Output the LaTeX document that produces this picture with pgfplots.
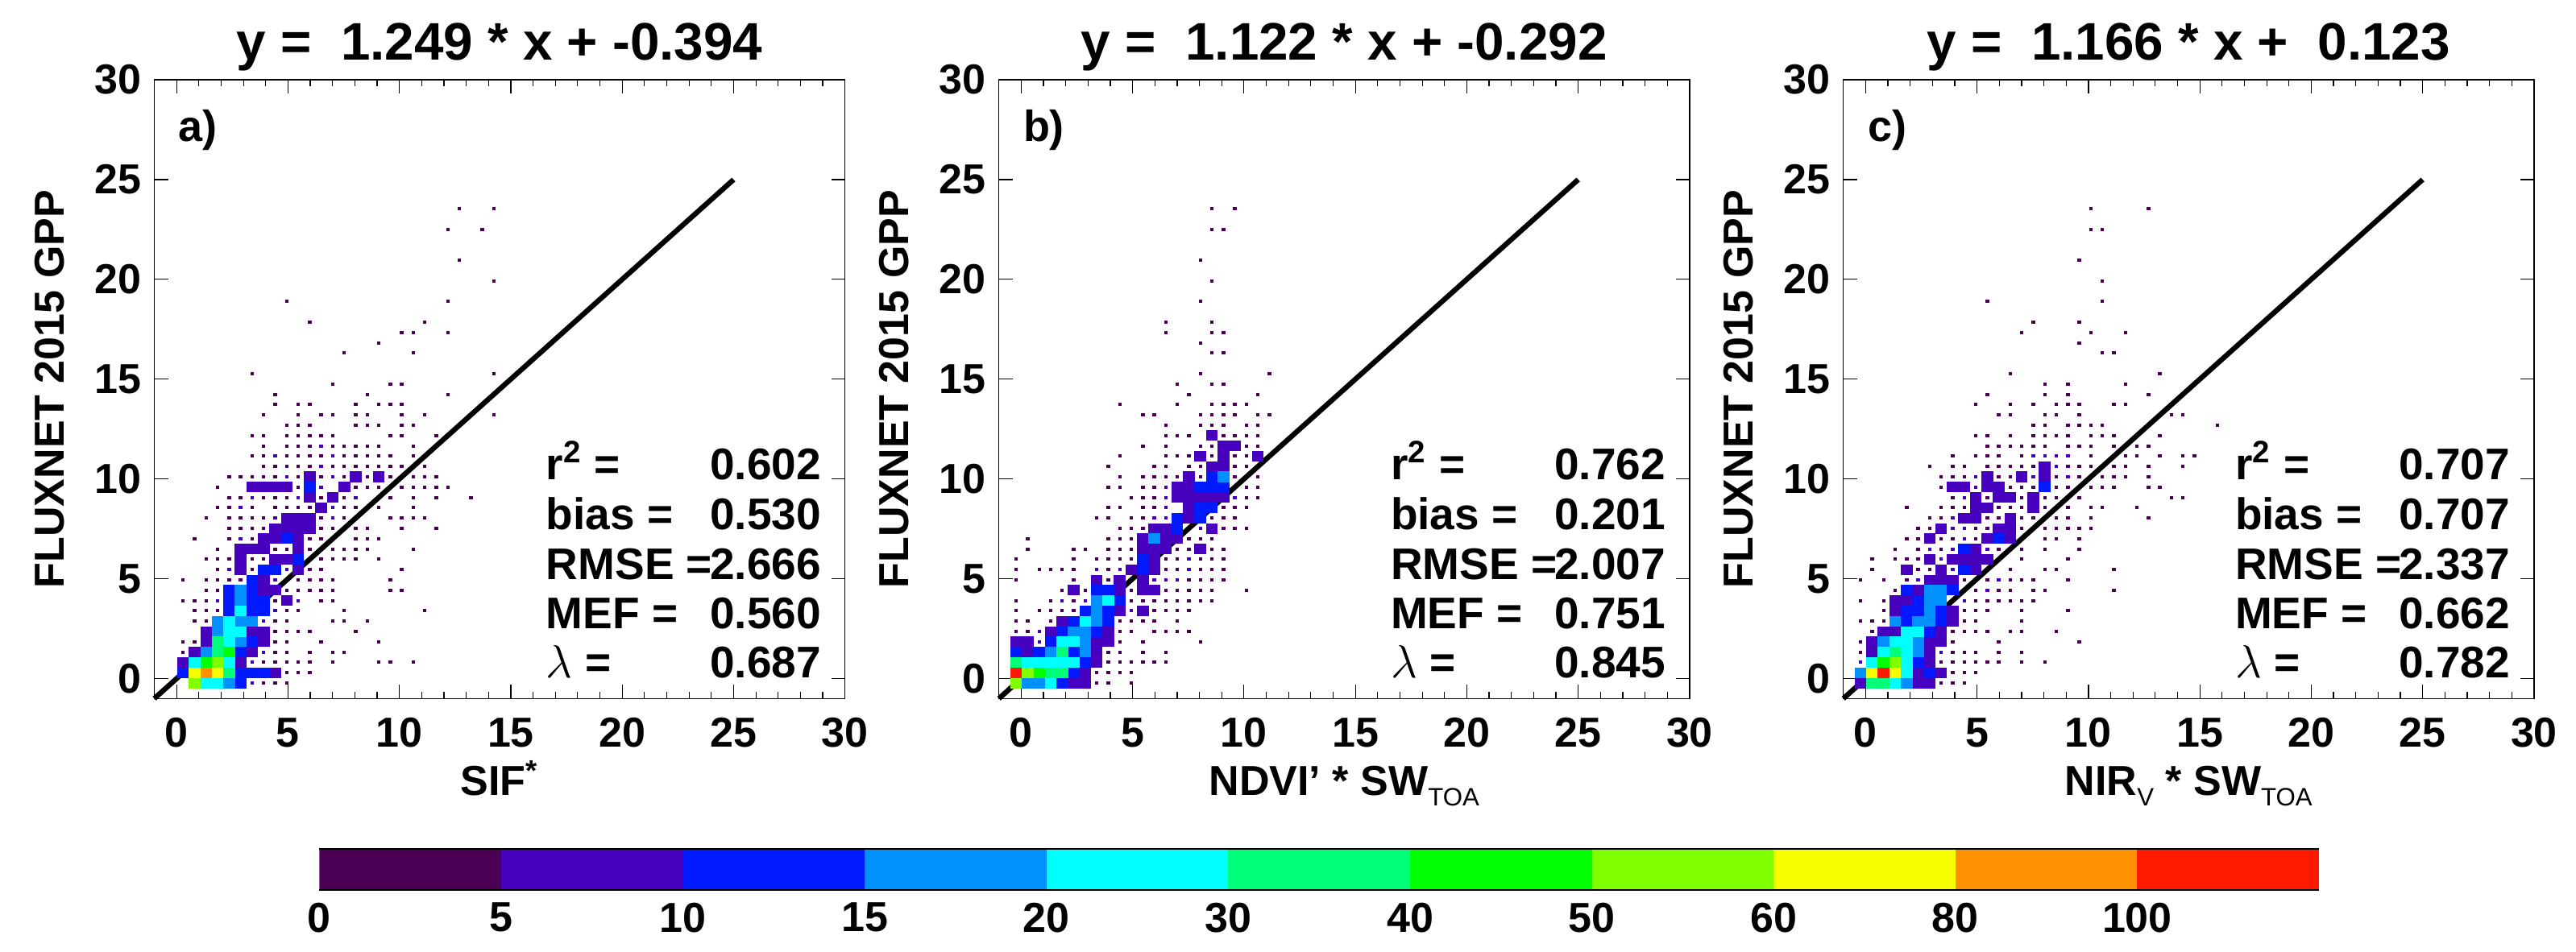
\documentclass[border=0pt]{standalone}
\usepackage{fontspec}
\setmainfont{Liberation Sans}
\usepackage{pgfplots}
\pgfplotsset{compat=1.18}

% histogram classes of the colour bar
\definecolor{c0}{RGB}{76,0,85}
\definecolor{c1}{RGB}{70,0,190}
\definecolor{c2}{RGB}{0,25,255}
\definecolor{c3}{RGB}{0,145,255}
\definecolor{c4}{RGB}{0,255,255}
\definecolor{c5}{RGB}{0,255,120}
\definecolor{c6}{RGB}{0,255,0}
\definecolor{c7}{RGB}{128,255,0}
\definecolor{c8}{RGB}{245,255,0}
\definecolor{c9}{RGB}{255,145,0}
\definecolor{c10}{RGB}{255,25,0}

\pgfdeclareplotmark{cell}{\pgfpathrectangle{\pgfpoint{-1.82pt}{-1.63pt}}{\pgfpoint{3.64pt}{3.26pt}}\pgfusepathqfill}
\pgfdeclareplotmark{dot}{\pgfpathrectangle{\pgfpoint{-0.55pt}{-0.5pt}}{\pgfpoint{1.1pt}{1pt}}\pgfusepathqfill}

\newcommand\bigfont{\fontsize{13}{15}\selectfont\bfseries}
\newcommand\lowsub[1]{\raisebox{-3.25pt}{\fontsize{7.8}{9}\selectfont\mdseries #1}}

% each table row is column and row of a 60x60 bin grid over -1..30
\pgfplotsset{
  table/bin/.style={row sep=\\,header=false,
    x expr={-1+31/60*(\thisrowno{0}+0.5)},y expr={-1+31/60*(\thisrowno{1}+0.5)}},
  big/.style={only marks,mark=cell,color=#1},
  small/.style={only marks,mark=dot,color=#1},
  panel/.style={
    scale only axis,width=214.3pt,height=192.075pt,anchor=south west,
    xmin=-1,xmax=30,ymin=-1,ymax=30,
    xtick={0,5,...,30},ytick={0,5,...,30},minor x tick num=4,minor y tick num=0,
    tick align=inside,major tick length=4.25pt,minor tick length=2.1pt,
    tick style={black,line width=0.3pt},axis line style={line width=0.35pt},
    clip=false,axis on top=false,
    /pgf/number format/assume math mode=true,
    tick label style={font=\bigfont},
    xticklabel style={yshift=-2.5pt},
    yticklabel style={xshift=-0.5pt},
    every axis title shift=0pt,
    title style={at={(0.5,1.0325)},anchor=base,font=\fontsize{16.4}{18}\selectfont\bfseries},
    xlabel style={at={(axis description cs:0.5,-0.1562)},anchor=base,font=\bigfont},
    ylabel style={at={(axis description cs:-0.1309,0.5)},anchor=base,font=\bigfont},
    ylabel={FLUXNET 2015 GPP},
  },
}

\newcommand\stats[5]{%
  \node[anchor=base west,inner sep=0pt,font=\fontsize{13.75}{15}\selectfont\bfseries] at (rel axis cs:0.5664,0.3544) {r\textsuperscript{2} =};
  \node[anchor=base west,inner sep=0pt,font=\fontsize{13.75}{15}\selectfont\bfseries] at (rel axis cs:0.5664,0.2737) {bias =};
  \node[anchor=base west,inner sep=0pt,font=\fontsize{13.75}{15}\selectfont\bfseries] at (rel axis cs:0.5664,0.193) {RMSE =};
  \node[anchor=base west,inner sep=0pt,font=\fontsize{13.75}{15}\selectfont\bfseries] at (rel axis cs:0.5664,0.1136) {MEF =};
  \node[anchor=base west,inner sep=0pt,font=\fontsize{13.75}{15}\selectfont\bfseries] at (rel axis cs:0.5664,0.033) {$\lambda$ =};
  \node[anchor=base east,inner sep=0pt,font=\fontsize{13.75}{15}\selectfont\bfseries] at (rel axis cs:0.966,0.3544) {#1};
  \node[anchor=base east,inner sep=0pt,font=\fontsize{13.75}{15}\selectfont\bfseries] at (rel axis cs:0.966,0.2737) {#2};
  \node[anchor=base east,inner sep=0pt,font=\fontsize{13.75}{15}\selectfont\bfseries] at (rel axis cs:0.966,0.193) {#3};
  \node[anchor=base east,inner sep=0pt,font=\fontsize{13.75}{15}\selectfont\bfseries] at (rel axis cs:0.966,0.1136) {#4};
  \node[anchor=base east,inner sep=0pt,font=\fontsize{13.75}{15}\selectfont\bfseries] at (rel axis cs:0.966,0.033) {#5};
}
\newcommand\tag[1]{\node[anchor=base west,inner sep=0pt,font=\fontsize{13.5}{15}\selectfont\bfseries] at (rel axis cs:0.0344,0.9) {#1};}

\begin{document}
\begin{tikzpicture}
\path[use as bounding box] (0,0) rectangle (799.25pt,295.25pt);

% panel a
\begin{axis}[panel,at={(47.875pt,78.425pt)},
  title={y =\ \ 1.249 * x + -0.394},
  xlabel={SIF\textsuperscript{*}}]
\addplot[small=c0] table[bin] {
9 1\\10 1\\11 1\\11 2\\12 2\\13 2\\9 3\\10 3\\11 3\\12 3\\13 3\\15 3\\19 3\\20 3\\22 3\\
2 4\\10 4\\11 4\\13 4\\15 4\\16 4\\2 5\\3 5\\10 5\\11 5\\14 5\\19 5\\10 6\\11 6\\12 6\\13 6\\17 6\\
3 7\\4 7\\10 7\\11 7\\15 7\\16 7\\18 7\\3 8\\4 8\\5 8\\11 8\\12 8\\16 8\\23 8\\
2 9\\3 9\\4 9\\10 9\\14 9\\15 9\\4 10\\5 10\\11 10\\12 10\\13 10\\14 10\\15 10\\20 10\\21 10\\
2 11\\4 11\\5 11\\6 11\\7 11\\12 11\\13 11\\14 11\\15 11\\20 11\\5 12\\8 12\\13 12\\14 12\\21 12\\
4 13\\5 13\\6 13\\8 13\\9 13\\14 13\\15 13\\16 13\\17 13\\19 13\\
5 14\\10 14\\11 14\\13 14\\15 14\\16 14\\17 14\\18 14\\22 14\\
3 15\\6 15\\8 15\\13 15\\14 15\\17 15\\18 15\\19 15\\
6 16\\7 16\\8 16\\9 16\\14 16\\15 16\\17 16\\18 16\\21 16\\24 16\\
4 17\\6 17\\7 17\\8 17\\9 17\\14 17\\16 17\\20 17\\21 17\\22 17\\23 17\\
5 18\\6 18\\8 18\\10 18\\11 18\\12 18\\13 18\\16 18\\17 18\\19 18\\22 18\\
6 19\\7 19\\9 19\\10 19\\11 19\\14 19\\16 19\\20 19\\22 19\\24 19\\27 19\\
5 20\\12 20\\17 20\\18 20\\19 20\\21 20\\22 20\\23 20\\24 20\\25 20\\
6 21\\7 21\\8 21\\9 21\\10 21\\12 21\\14 21\\16 21\\18 21\\20 21\\22 21\\23 21\\24 21\\
9 22\\10 22\\11 22\\12 22\\13 22\\15 22\\16 22\\17 22\\18 22\\19 22\\20 22\\21 22\\23 22\\
8 23\\9 23\\11 23\\12 23\\13 23\\14 23\\16 23\\17 23\\18 23\\19 23\\20 23\\22 23\\
9 24\\11 24\\12 24\\13 24\\15 24\\16 24\\17 24\\18 24\\19 24\\22 24\\
8 25\\9 25\\11 25\\12 25\\13 25\\14 25\\15 25\\20 25\\21 25\\24 25\\
11 26\\12 26\\13 26\\17 26\\18 26\\19 26\\21 26\\22 26\\
9 27\\12 27\\14 27\\15 27\\17 27\\18 27\\21 27\\23 27\\29 27\\
10 28\\12 28\\13 28\\17 28\\19 28\\20 28\\21 28\\10 29\\18 29\\25 29\\15 30\\20 30\\21 30\\8 31\\29 31\\
16 33\\22 33\\19 34\\21 35\\22 35\\25 35\\13 36\\23 36\\11 38\\25 38\\29 40\\26 42\\25 45\\28 45\\26 47\\29 47\\
};
\addplot[small=c1] table[bin] {
8 1\\8 3\\9 4\\9 7\\10 8\\5 9\\12 9\\10 11\\6 12\\11 12\\7 15\\10 17\\15 17\\7 18\\15 18\\8 19\\12 19\\17 19\\14 20\\11 21\\15 21\\14 22\\10 23\\15 23\\14 24\\
};
\addplot[big=c1] table[bin] {
10 2\\2 3\\7 3\\3 4\\8 4\\4 5\\9 5\\4 6\\8 6\\9 6\\11 9\\9 10\\10 10\\9 11\\7 12\\12 12\\7 13\\10 13\\11 13\\7 14\\8 14\\9 14\\12 14\\
9 15\\10 15\\12 15\\10 16\\11 16\\12 16\\13 16\\11 17\\12 17\\13 17\\14 18\\13 19\\15 19\\8 20\\9 20\\10 20\\11 20\\16 20\\13 21\\17 21\\19 21\\
};
\addplot[big=c2] table[bin] {
7 1\\2 2\\7 2\\8 2\\9 2\\7 4\\8 5\\6 8\\8 8\\9 8\\6 9\\8 9\\9 9\\6 10\\8 10\\8 11\\9 12\\10 12\\12 13\\11 15\\13 20\\
};
\addplot[big=c3] table[bin] {
6 1\\4 4\\7 5\\5 6\\5 7\\7 7\\8 7\\7 9\\7 10\\
};
\addplot[big=c4] table[bin] {
4 1\\5 1\\3 3\\6 3\\6 5\\6 6\\7 6\\6 7\\7 8\\
};
\addplot[big=c5] table[bin] {
6 2\\5 4\\5 5\\
};
\addplot[big=c6] table[bin] {
4 3\\6 4\\
};
\addplot[big=c7] table[bin] {
3 1\\5 3\\
};
\addplot[big=c8] table[bin] {
3 2\\5 2\\
};
\addplot[big=c9] table[bin] {
4 2\\
};
\addplot[black,line width=1.6pt] coordinates {(-1,-1) (25,25)};
\tag{a)}
\stats{0.602}{0.530}{2.666}{0.560}{0.687}
\end{axis}

% panel b
\begin{axis}[panel,at={(309.925pt,78.425pt)},
  title={y =\ \ 1.122 * x + -0.292},
  xlabel={NDVI' * SW\lowsub{TOA}}]
\addplot[small=c0] table[bin] {
8 1\\9 1\\11 1\\8 2\\9 2\\10 2\\11 2\\9 3\\10 3\\11 3\\12 3\\13 3\\14 3\\9 4\\10 4\\12 4\\14 4\\10 5\\12 5\\17 5\\
1 6\\2 6\\10 6\\11 6\\13 6\\14 6\\15 6\\16 6\\1 7\\2 7\\4 7\\10 7\\11 7\\12 7\\13 7\\15 7\\
1 8\\3 8\\4 8\\5 8\\6 8\\13 8\\14 8\\15 8\\16 8\\1 9\\4 9\\6 9\\11 9\\12 9\\13 9\\14 9\\15 9\\16 9\\17 9\\18 9\\
5 10\\7 10\\11 10\\14 10\\15 10\\16 10\\17 10\\18 10\\21 10\\1 11\\6 11\\9 11\\16 11\\17 11\\18 11\\19 11\\
1 12\\3 12\\4 12\\5 12\\6 12\\9 12\\14 12\\15 12\\17 12\\18 12\\19 12\\
1 13\\6 13\\8 13\\9 13\\10 13\\11 13\\14 13\\15 13\\17 13\\18 13\\19 13\\
2 14\\6 14\\7 14\\9 14\\10 14\\11 14\\15 14\\16 14\\18 14\\19 14\\2 15\\9 15\\10 15\\11 15\\16 15\\17 15\\18 15\\
10 16\\11 16\\12 16\\19 16\\20 16\\21 16\\8 17\\9 17\\11 17\\12 17\\18 17\\19 17\\20 17\\
9 18\\10 18\\12 18\\13 18\\19 18\\20 18\\21 18\\11 19\\12 19\\13 19\\21 19\\22 19\\9 20\\10 20\\12 20\\13 20\\21 20\\22 20\\
10 21\\12 21\\13 21\\14 21\\15 21\\17 21\\20 21\\22 21\\9 22\\13 22\\14 22\\16 22\\17 22\\20 22\\21 22\\
10 23\\14 23\\15 23\\16 23\\18 23\\20 23\\21 23\\12 24\\14 24\\17 24\\18 24\\21 24\\22 24\\
14 25\\15 25\\16 25\\19 25\\20 25\\21 25\\22 25\\14 26\\17 26\\18 26\\19 26\\21 26\\22 26\\
12 27\\13 27\\17 27\\18 27\\19 27\\20 27\\22 27\\23 27\\10 28\\15 28\\18 28\\19 28\\20 28\\21 28\\
16 29\\22 29\\15 30\\18 30\\19 30\\17 31\\23 31\\18 33\\19 33\\17 34\\14 35\\18 35\\19 35\\14 36\\18 36\\17 38\\18 40\\17 42\\18 45\\19 45\\18 47\\20 47\\
};
\addplot[small=c1] table[bin] {
3 5\\3 6\\5 9\\7 9\\11 8\\8 12\\10 12\\16 12\\13 11\\14 11\\15 11\\16 13\\13 17\\14 17\\14 18\\14 19\\20 19\\14 20\\17 16\\
};
\addplot[big=c1] table[bin] {
6 1\\7 1\\7 2\\8 3\\2 4\\8 4\\1 5\\2 5\\8 5\\9 5\\4 6\\9 6\\5 7\\10 8\\12 8\\6 10\\10 10\\12 10\\13 10\\8 11\\10 11\\12 11\\11 12\\13 12\\13 13\\
12 14\\13 14\\14 14\\17 14\\12 15\\14 15\\15 15\\13 16\\14 16\\18 16\\16 17\\16 18\\15 19\\16 19\\17 19\\18 19\\19 19\\15 20\\16 20\\16 21\\18 22\\19 22\\17 23\\19 23\\22 23\\19 24\\20 24\\18 25\\
};
\addplot[big=c2] table[bin] {
5 1\\6 2\\7 3\\1 4\\3 4\\6 4\\4 5\\5 6\\8 6\\6 7\\9 7\\7 8\\9 8\\10 9\\8 10\\9 10\\12 12\\12 13\\15 16\\15 17\\17 17\\17 18\\18 18\\17 20\\18 20\\19 20\\18 21\\
};
\addplot[big=c3] table[bin] {
2 1\\3 1\\4 4\\7 4\\7 5\\6 6\\7 6\\8 7\\8 8\\8 9\\13 15\\19 21\\
};
\addplot[big=c4] table[bin] {
4 1\\2 3\\3 3\\4 3\\5 3\\6 3\\5 5\\6 5\\7 7\\9 9\\
};
\addplot[big=c5] table[bin] {
4 2\\5 2\\1 3\\5 4\\
};
\addplot[big=c6] table[bin] {
3 2\\
};
\addplot[big=c7] table[bin] {
1 1\\2 2\\
};
\addplot[big=c10] table[bin] {
1 2\\
};
\addplot[black,line width=1.6pt] coordinates {(-1,-1) (25,25)};
\tag{b)}
\stats{0.762}{0.201}{2.007}{0.751}{0.845}
\end{axis}

% panel c
\begin{axis}[panel,at={(571.925pt,78.425pt)},
  title={y =\ \ 1.166 * x +\ \ 0.123},
  xlabel={NIR\lowsub{V} * SW\lowsub{TOA}}]
\addplot[small=c0] table[bin] {
8 1\\9 1\\10 1\\9 2\\10 2\\11 2\\8 3\\9 3\\10 3\\11 3\\12 3\\13 3\\15 3\\17 3\\1 4\\9 4\\10 4\\11 4\\13 4\\15 4\\1 5\\9 5\\13 5\\20 5\\
2 6\\9 6\\10 6\\11 6\\12 6\\14 6\\15 6\\18 6\\1 7\\2 7\\3 7\\10 7\\11 7\\15 7\\3 8\\10 8\\11 8\\12 8\\15 8\\19 8\\
1 9\\3 9\\11 9\\12 9\\13 9\\14 9\\15 9\\16 9\\4 10\\11 10\\13 10\\14 10\\16 10\\17 10\\23 10\\
1 11\\3 11\\5 11\\10 11\\12 11\\14 11\\15 11\\16 11\\19 11\\2 12\\6 12\\7 12\\14 12\\17 12\\18 12\\23 12\\
2 13\\4 13\\5 13\\6 13\\15 13\\19 13\\4 14\\6 14\\8 14\\13 14\\15 14\\17 14\\20 14\\5 15\\6 15\\8 15\\9 15\\11 15\\17 15\\18 15\\20 15\\
6 16\\7 16\\11 16\\12 16\\15 16\\17 16\\18 16\\19 16\\20 16\\21 16\\7 17\\8 17\\12 17\\13 17\\15 17\\16 17\\18 17\\19 17\\21 17\\26 17\\
5 18\\8 18\\9 18\\10 18\\13 18\\14 18\\15 18\\17 18\\19 18\\21 18\\22 18\\25 18\\9 19\\12 19\\15 19\\17 19\\18 19\\20 19\\28 19\\29 19\\
8 20\\14 20\\15 20\\16 20\\18 20\\19 20\\21 20\\22 20\\23 20\\26 20\\27 20\\8 21\\9 21\\10 21\\13 21\\14 21\\18 21\\20 21\\22 21\\23 21\\24 21\\26 21\\
7 22\\9 22\\10 22\\12 22\\13 22\\14 22\\15 22\\16 22\\19 22\\20 22\\21 22\\23 22\\24 22\\26 22\\29 22\\
9 23\\11 23\\12 23\\13 23\\15 23\\21 23\\24 23\\25 23\\27 23\\29 23\\30 23\\
12 24\\13 24\\14 24\\15 24\\16 24\\17 24\\19 24\\20 24\\21 24\\23 24\\25 24\\26 24\\
11 25\\12 25\\14 25\\16 25\\17 25\\18 25\\19 25\\21 25\\22 25\\23 25\\27 25\\16 26\\17 26\\19 26\\20 26\\21 26\\22 26\\32 26\\
13 27\\14 27\\17 27\\18 27\\20 27\\28 27\\29 27\\11 28\\14 28\\16 28\\18 28\\19 28\\20 28\\23 28\\24 28\\
12 29\\17 29\\19 29\\26 29\\17 30\\19 30\\24 30\\14 31\\27 31\\22 33\\23 33\\20 34\\15 35\\21 35\\24 35\\16 36\\20 36\\12 38\\22 38\\22 40\\20 42\\21 45\\22 45\\21 47\\26 47\\
};
\addplot[small=c1] table[bin] {
1 3\\8 4\\12 10\\10 9\\13 11\\6 11\\8 13\\9 12\\7 14\\9 14\\12 14\\10 15\\9 16\\10 16\\9 17\\10 19\\11 20\\11 21\\16 21\\19 21\\18 22\\16 23\\17 23\\18 23\\19 23\\
};
\addplot[big=c1] table[bin] {
1 1\\6 1\\7 1\\6 2\\8 2\\7 3\\2 4\\7 4\\2 5\\7 5\\8 5\\3 6\\4 6\\8 6\\9 7\\4 8\\9 8\\4 9\\5 9\\6 10\\7 11\\8 11\\9 11\\5 12\\8 12\\11 12\\
7 13\\9 13\\10 13\\11 13\\12 13\\11 14\\7 15\\12 15\\14 15\\8 16\\13 16\\14 16\\10 17\\11 17\\14 17\\11 18\\12 18\\16 18\\
11 19\\13 19\\14 19\\16 19\\9 20\\10 20\\12 20\\13 20\\12 21\\15 21\\17 21\\17 22\\
};
\addplot[big=c2] table[bin] {
7 2\\6 3\\7 6\\5 7\\8 7\\5 8\\6 8\\8 8\\6 9\\5 10\\9 10\\10 12\\10 14\\13 15\\17 20\\
};
\addplot[big=c3] table[bin] {
5 1\\1 2\\6 4\\3 5\\6 5\\4 7\\6 7\\7 7\\7 8\\7 9\\8 9\\7 10\\8 10\\
};
\addplot[big=c4] table[bin] {
4 1\\5 2\\2 3\\5 3\\3 4\\5 4\\4 5\\5 5\\5 6\\6 6\\
};
\addplot[big=c5] table[bin] {
2 1\\3 1\\4 4\\
};
\addplot[big=c6] table[bin] {
3 3\\
};
\addplot[big=c7] table[bin] {
4 3\\
};
\addplot[big=c8] table[bin] {
2 2\\4 2\\
};
\addplot[big=c10] table[bin] {
3 2\\
};
\addplot[black,line width=1.6pt] coordinates {(-1,-1) (25,25)};
\tag{c)}
\stats{0.707}{0.707}{2.337}{0.662}{0.782}
\end{axis}

% colour bar
\begin{axis}[scale only axis,width=620.4pt,height=12.75pt,anchor=south west,at={(99.1pt,19pt)},
  xmin=0,xmax=11,ymin=0,ymax=1,ytick=\empty,
  xtick={0,1,2,3,4,5,6,7,8,9,10},
  xticklabels={0,5,10,15,20,30,40,50,60,80,100},
  major tick length=0pt,
  separate axis lines,
  x axis line style={line width=0.5pt},
  y axis line style={draw=none},
  /pgf/number format/assume math mode=true,
  xticklabel style={font=\bigfont,yshift=-0.5pt},
  area style]
\addplot[fill=c0,draw=none] coordinates {(0,0) (0,1) (1,1) (1,0)} --cycle;
\addplot[fill=c1,draw=none] coordinates {(1,0) (1,1) (2,1) (2,0)} --cycle;
\addplot[fill=c2,draw=none] coordinates {(2,0) (2,1) (3,1) (3,0)} --cycle;
\addplot[fill=c3,draw=none] coordinates {(3,0) (3,1) (4,1) (4,0)} --cycle;
\addplot[fill=c4,draw=none] coordinates {(4,0) (4,1) (5,1) (5,0)} --cycle;
\addplot[fill=c5,draw=none] coordinates {(5,0) (5,1) (6,1) (6,0)} --cycle;
\addplot[fill=c6,draw=none] coordinates {(6,0) (6,1) (7,1) (7,0)} --cycle;
\addplot[fill=c7,draw=none] coordinates {(7,0) (7,1) (8,1) (8,0)} --cycle;
\addplot[fill=c8,draw=none] coordinates {(8,0) (8,1) (9,1) (9,0)} --cycle;
\addplot[fill=c9,draw=none] coordinates {(9,0) (9,1) (10,1) (10,0)} --cycle;
\addplot[fill=c10,draw=none] coordinates {(10,0) (10,1) (11,1) (11,0)} --cycle;
\end{axis}
\end{tikzpicture}
\end{document}
